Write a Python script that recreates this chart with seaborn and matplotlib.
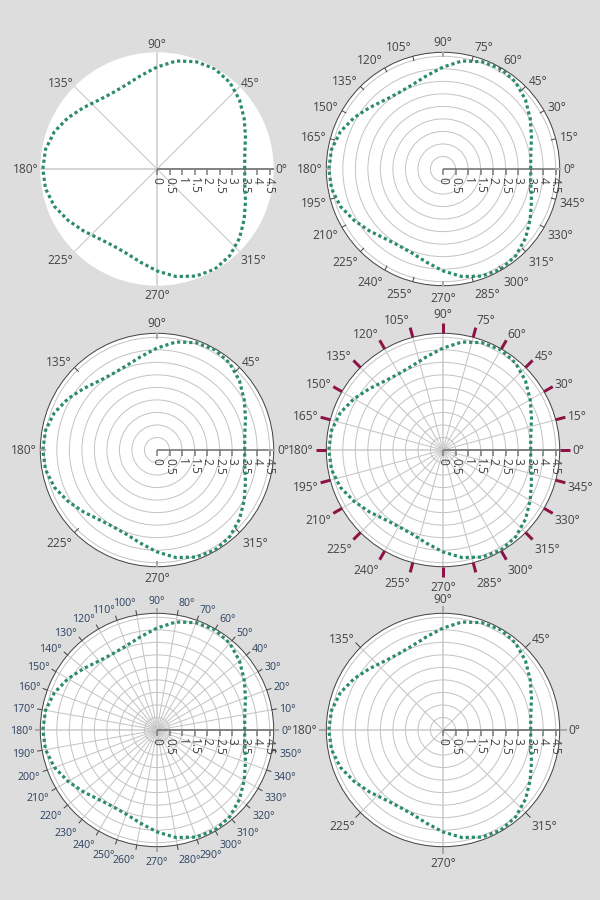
import numpy as np
import pandas as pd
import matplotlib.pyplot as plt
import seaborn as sns

# ── Style ─────────────────────────────────────────────────────────────────────
sns.set_theme(style="white")
plt.rcParams["font.family"] = ["Open Sans", "DejaVu Sans"]

BG = "#dddddd"
LINE_GREEN = "#2c8c66"
TEXT_GREY = "#444444"
NAVY = "#2a3f5f"
MAROON = "#8b1346"
GRID = "#c4c4c4"
GRID_CARD = "#d6d6d6"

# ── Data ──────────────────────────────────────────────────────────────────────
theta_deg = [0, 10, 20, 30, 40, 50, 60, 70, 80, 90, 100, 110, 120,
             130, 140, 150, 160, 170, 180, 190, 200, 210, 220, 230, 240,
             250, 260, 270, 280, 290, 300, 310, 320, 330, 340, 350, 360]
radius = [3.50, 3.56, 3.76, 4.02, 4.30, 4.52, 4.62, 4.56, 4.38, 4.07, 3.78, 3.58, 3.52,
          3.60, 3.82, 4.10, 4.36, 4.52, 4.56, 4.52, 4.36, 4.10, 3.84, 3.62, 3.53,
          3.58, 3.78, 4.07, 4.36, 4.55, 4.62, 4.52, 4.30, 4.02, 3.76, 3.56, 3.50]
r_ticks = [0, 0.5, 1, 1.5, 2, 2.5, 3, 3.5, 4, 4.5]
r_tick_labels = ["0", "0.5", "1", "1.5", "2", "2.5", "3", "3.5", "4", "4.5"]
r_rings = [0.5, 1, 1.5, 2, 2.5, 3, 3.5, 4, 4.5]
RMAX = 4.66

ang_45 = [0, 45, 90, 135, 180, 225, 270, 315]
ang_15 = list(range(0, 360, 15))
ang_10 = list(range(0, 360, 10))

df = pd.DataFrame({"theta": np.deg2rad(theta_deg), "r": radius})

# ── Layout (pixels on a 600x900 canvas) ───────────────────────────────────────
W, H, DPI = 600, 900, 100
R_PX = 116.7
PX = 72 / DPI  # points per pixel

panels = [
    dict(c=(157, 169), angles=ang_45, spokes=ang_45, rings=False, rim=False,
         tick=None, pad=1.5, color=TEXT_GREY, fs=12),
    dict(c=(443, 169), angles=ang_15, spokes=None, rings=True, rim=True,
         tick=("in", 5, 1, TEXT_GREY), pad=4, color=TEXT_GREY, fs=12),
    dict(c=(157, 450), angles=ang_45, spokes=None, rings=True, rim=True,
         tick=("in", 6, 1, TEXT_GREY), pad=3.6, color=TEXT_GREY, fs=12),
    dict(c=(443, 450), angles=ang_15, spokes=ang_15, rings=True, rim=True,
         tick=("out", 10, 3, MAROON), pad=12.5, color=TEXT_GREY, fs=12),
    dict(c=(157, 730), angles=ang_10, spokes=ang_10, rings=True, rim=True,
         tick=("out", 5, 1, TEXT_GREY), pad=7.5, color=NAVY, fs=10.5),
    dict(c=(443, 730), angles=ang_45, spokes=ang_45, rings=True, rim=True,
         tick=("out", 7, 1, TEXT_GREY), pad=8.3, color=TEXT_GREY, fs=12),
]

fig = plt.figure(figsize=(W / DPI, H / DPI), dpi=DPI, facecolor=BG)


def draw_panel(spec):
    cx, cy = spec["c"]
    ax = fig.add_axes([(cx - R_PX) / W, (H - cy - R_PX) / H, 2 * R_PX / W, 2 * R_PX / H],
                      projection="polar")
    ax.set_facecolor("white")
    dpp = RMAX / R_PX  # data units per pixel

    # grid: spokes and rings
    spokes = spec["spokes"] or []
    ax.set_xticks(np.deg2rad(spokes))
    ax.set_xticklabels([])
    ax.set_yticks(r_rings if spec["rings"] else [])
    ax.set_yticklabels([])
    ax.tick_params(length=0)
    ax.xaxis.grid(bool(spokes), color=GRID, linewidth=1 * PX)
    ax.yaxis.grid(spec["rings"], color=GRID, linewidth=1 * PX)
    for a, gl in zip(spokes, ax.xaxis.get_gridlines()):
        if a % 90 == 0:
            gl.set_color(GRID_CARD)
            gl.set_linewidth(2 * PX)
    ax.spines["polar"].set_visible(spec["rim"])
    ax.spines["polar"].set_color(TEXT_GREY)
    ax.spines["polar"].set_linewidth(1 * PX)

    # data curve
    sns.lineplot(data=df, x="theta", y="r", ax=ax, color=LINE_GREEN,
                 linewidth=3.2 * PX, linestyle=(0, (1, 0.9)), sort=False,
                 estimator=None, zorder=5)
    ax.set_xlabel("")
    ax.set_ylabel("")
    ax.set_ylim(0, RMAX)

    # angular ticks
    if spec["tick"] is not None:
        direction, length, width, tcolor = spec["tick"]
        for a in spec["angles"]:
            t = np.deg2rad(a)
            r0, r1 = (RMAX, RMAX + length * dpp) if direction == "out" else (RMAX - length * dpp, RMAX)
            col, lw = tcolor, width
            if a % 90 == 0 and tcolor == TEXT_GREY:
                col, lw = "#a9a9a9", 2
            ax.plot([t, t], [r0, r1], color=col, linewidth=lw * PX,
                    solid_capstyle="butt", clip_on=False, zorder=6)

    # angular labels (anchored like plotly)
    fs = spec["fs"]
    pad = spec["pad"]
    for a in spec["angles"]:
        t = np.deg2rad(a)
        c, s = np.cos(t), np.sin(t)
        ha = "center" if abs(c) < 0.1 else ("left" if c > 0 else "right")
        ff = 0.2 if s > 1e-3 else 1.0
        dx = c * pad
        dy = s * (pad + fs * ff) - abs(c) * fs * 0.35
        ax.annotate(f"{a}°", xy=(t, RMAX), xytext=(dx * PX, dy * PX),
                    textcoords="offset points", ha=ha, va="baseline",
                    fontsize=fs * PX, color=spec["color"], annotation_clip=False,
                    zorder=7)

    # radial axis along 0°
    ax.plot([0, 0], [0, RMAX], color="#6a6a6a", linewidth=1.5 * PX,
            solid_capstyle="butt", zorder=4, clip_on=False)
    ax.plot([0] * len(r_ticks), r_ticks, linestyle="none", marker=3,
            markersize=6 * PX, markeredgewidth=1.5 * PX, color="#7a7a7a",
            zorder=4, clip_on=False)
    for r, lab in zip(r_ticks, r_tick_labels):
        ax.annotate(lab, xy=(0, r), xytext=(0, -8 * PX), textcoords="offset points",
                    rotation=-90, rotation_mode="anchor", ha="left", va="center",
                    fontsize=12 * PX, color=TEXT_GREY, annotation_clip=False, zorder=4)


for spec in panels:
    draw_panel(spec)

fig.savefig("out.png", dpi=DPI, facecolor=BG)
